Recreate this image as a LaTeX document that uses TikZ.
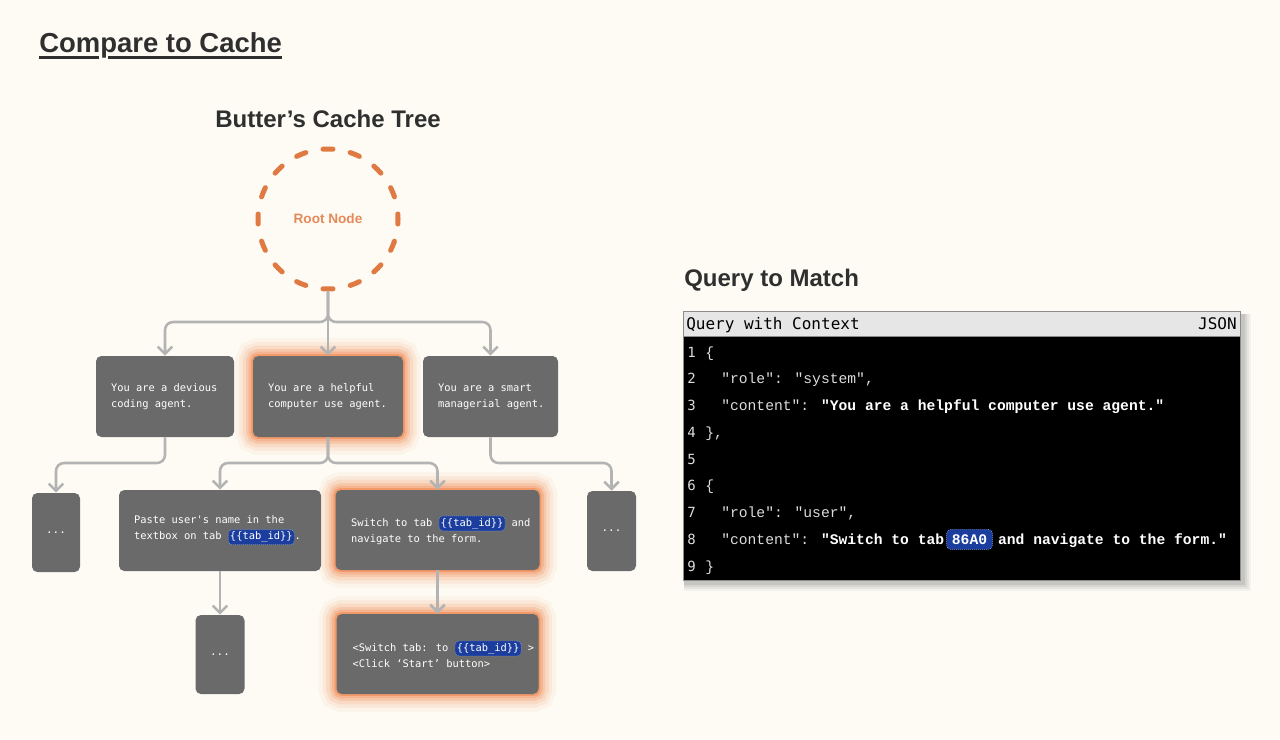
\documentclass[tikz,border=0pt]{standalone}
\usepackage{fontspec}
\setmainfont{Liberation Sans}
\newfontfamily\treemono[Ligatures=TeXOff]{DejaVu Sans Mono}
\newfontfamily\codemono[Ligatures=TeXOff]{Liberation Mono}
\newfontfamily\numfont{DejaVu Sans Mono}
\usetikzlibrary{arrows.meta,calc}
\definecolor{bgc}{HTML}{FDFBF4}
\definecolor{titlec}{HTML}{2F2F2F}
\definecolor{boxgray}{HTML}{6A6A6A}
\definecolor{connc}{HTML}{B3B3B3}
\definecolor{orangec}{HTML}{E07A43}
\definecolor{rootc}{HTML}{E5895A}
\definecolor{glowc}{HTML}{F07A3C}
\definecolor{pillblue}{HTML}{1B3D9E}
\definecolor{pillborder}{HTML}{8AA4E0}
\definecolor{hdrc}{HTML}{E6E6E6}
\definecolor{framec}{HTML}{8C8C8C}
\definecolor{codegray}{HTML}{DCDCDC}
\definecolor{shadowc}{HTML}{7A7A7A}
\pgfdeclarelayer{bgfill}
\pgfdeclarelayer{bg}
\pgfsetlayers{bgfill,bg,main}
\tikzset{
  treebox/.style={fill=boxgray, rounded corners=4pt, inner sep=0pt, draw=none, text=white,
    font=\treemono\fontsize{8.2}{12}\selectfont},
  boxtext/.style={text=white, font=\treemono\fontsize{7.8}{12}\selectfont, align=left, inner sep=0pt, anchor=west},
  conn/.style={draw=connc, line width=1.9pt, rounded corners=6pt, -{Straight Barb[length=5.5pt,width=11pt]}},
  treepill/.style={fill=pillblue, draw=pillborder, densely dotted, line width=0.5pt, rounded corners=3pt,
    text=white, font=\treemono\fontsize{7.8}{12}\selectfont, inner xsep=1.3pt, inner ysep=0pt, minimum height=11.25pt},
  codepillst/.style={fill=pillblue, draw=pillborder, densely dotted, line width=0.5pt, rounded corners=3pt,
    text=white, font=\codemono\bfseries\fontsize{11}{13}\selectfont, inner xsep=4pt, inner ysep=0pt, minimum height=15pt},
  codest/.style={text=codegray, font=\codemono\fontsize{11}{13}\selectfont, anchor=base west, inner sep=0pt},
  numst/.style={text=codegray, font=\numfont\fontsize{10.5}{13}\selectfont, anchor=base west, inner sep=0pt},
  heading/.style={text=titlec, font=\bfseries\fontsize{18}{20}\selectfont, inner sep=0pt}
}
\newcommand\tabpill[1]{\tikz[baseline=(tp.base)]\node[treepill](tp){#1};}
\newcommand\codepill[1]{\tikz[baseline=(cp.base)]\node[codepillst](cp){#1};}
\newcommand\glowbox[1]{%
  \begin{pgfonlayer}{bg}
  \foreach \w/\o in {26/0.06,20/0.09,15/0.12,10/0.17,6/0.25,2.5/0.45}{%
    \draw[draw=glowc, line width=\w pt, opacity=\o, rounded corners=4pt] (#1.south west) rectangle (#1.north east);}
  \end{pgfonlayer}}
\begin{document}
\begin{tikzpicture}[x=0.75pt,y=-0.75pt]
\useasboundingbox (0,0) rectangle (1280,739);
\begin{pgfonlayer}{bgfill}
\fill[bgc] (0,0) rectangle (1280,739);
\end{pgfonlayer}

% titles
\node[heading, anchor=base west, font=\bfseries\fontsize{20.6}{24}\selectfont] (title) at (39,52) {Compare to Cache};
\draw[titlec, line width=1.9pt] ($(title.base west)+(0,5.5)$) -- ($(title.base west)+(60,5.5)$);
\draw[titlec, line width=1.9pt] ($(title.base west)+(69,5.5)$) -- ($(title.base east)+(0,5.5)$);
\node[heading, anchor=base] (treetitle) at (328,127) {Butter’s Cache Tree};
\node[heading, anchor=base west] (qtitle) at (684,286) {Query to Match};

% root
\node[circle, minimum size=105pt, inner sep=0pt, draw=orangec, line width=3.75pt, line cap=round,
  dash pattern=on 7.5pt off 13.117pt, dash phase=3.75pt, text=rootc,
  font=\bfseries\fontsize{10.2}{12}\selectfont] (root) at (328,219) {Root Node};

% level 1
\node[treebox, minimum width=103.5pt, minimum height=60.75pt] (A) at (165,396.5) {};
\node[treebox, minimum width=112.5pt, minimum height=60.75pt] (B) at (328,396.5) {};
\node[treebox, minimum width=101.25pt, minimum height=60.75pt] (C) at (490.5,396.5) {};
\node[boxtext] (At) at ($(A.west)+(15,0)$) {You are a devious\\coding agent.};
\node[boxtext] (Bt) at ($(B.west)+(15,0)$) {You are a helpful\\computer use agent.};
\node[boxtext] (Ct) at ($(C.west)+(15,0)$) {You are a smart\\managerial agent.};

% level 2
\node[treebox, minimum width=36pt, minimum height=59.25pt] (D) at (56,532.5) {...};
\node[treebox, minimum width=151.5pt, minimum height=60.75pt] (E) at (220,530.5) {};
\node[treebox, minimum width=153pt, minimum height=60pt] (F) at (437.5,530) {};
\node[treebox, minimum width=36.75pt, minimum height=60pt] (G) at (611.5,531) {...};
\node[boxtext] (Et) at ($(E.west)+(15,0)$) {Paste user's name in the\\textbox on tab \tabpill{\{\{tab\_id\}\}}.};
\node[boxtext] (Ft) at ($(F.west)+(15.5,0)$) {Switch to tab \tabpill{\{\{tab\_id\}\}} and\\navigate to the form.};

% level 3
\node[treebox, minimum width=36.75pt, minimum height=59.25pt] (H) at (220,654.5) {...};
\node[treebox, minimum width=151.5pt, minimum height=60pt] (I) at (437.5,654) {};
\node[boxtext] (It) at ($(I.west)+(16,0)$) {<Switch tab: to \tabpill{\{\{tab\_id\}\}} >\\<Click ‘Start’ button>};

\glowbox{B}
\glowbox{F}
\glowbox{I}

% connectors
\coordinate (j1) at (328,322);
\coordinate (r2) at (328,463);
\draw[conn] (root.south) -- (j1) -| (A.north);
\draw[conn] (root.south) -- (j1) -| (C.north);
\draw[conn, rounded corners=0pt] (root.south) -- (B.north);
\draw[conn] (A.south) |- (r2 -| D.north) -- (D.north);
\draw[conn] (B.south) |- (r2 -| E.north) -- (E.north);
\draw[conn] (B.south) |- (r2 -| F.north) -- (F.north);
\draw[conn] (C.south) |- (r2 -| G.north) -- (G.north);
\draw[conn] (E.south) -- (H.north);
\draw[conn] (F.south) -- (I.north);

% query panel
\node[fill=black, draw=framec, line width=0.75pt, minimum width=417.75pt, minimum height=183pt, inner sep=0pt] (body) at (961.5,458) {};
\node[fill=hdrc, draw=framec, line width=0.75pt, minimum width=417.75pt, minimum height=18.75pt, inner sep=0pt] (hdr) at (961.5,323.5) {};
\begin{pgfonlayer}{bg}
\foreach \d/\o in {10/0.07,8/0.1,6/0.13,4/0.18}{%
  \fill[shadowc, opacity=\o] ($(hdr.north west)+(1,3)$) rectangle ($(body.south east)+(\d,\d)$);}
\end{pgfonlayer}
\node[anchor=base west, inner sep=0pt, text=black, font=\numfont\fontsize{12}{14}\selectfont] (hq) at (686,329) {Query with Context};
\node[anchor=base east, inner sep=0pt, text=black, font=\numfont\fontsize{12}{14}\selectfont] (hj) at (1237,329) {JSON};

\foreach \i in {1,...,9}{\node[numst] (n\i) at (687,{357+(\i-1)*26.75}) {\i};}
\node[codest] (c1) at (705,357) {\{};
\node[codest] (c2) at (721,383.75) {"role": "system",};
\node[codest] (c3) at (721,410.5) {"content": \textbf{\color{white}"You are a helpful computer use agent."}};
\node[codest] (c4) at (705,437.25) {\},};
\node[codest] (c6) at (705,490.75) {\{};
\node[codest] (c7) at (721,517.5) {"role": "user",};
\node[codest] (c8) at (721,544.25) {"content": \textbf{\color{white}"Switch to tab}\kern1.5pt\codepill{86A0}\kern4pt\textbf{\color{white}and navigate to the form."}};
\node[codest] (c9) at (705,571) {\}};
\end{tikzpicture}
\end{document}
